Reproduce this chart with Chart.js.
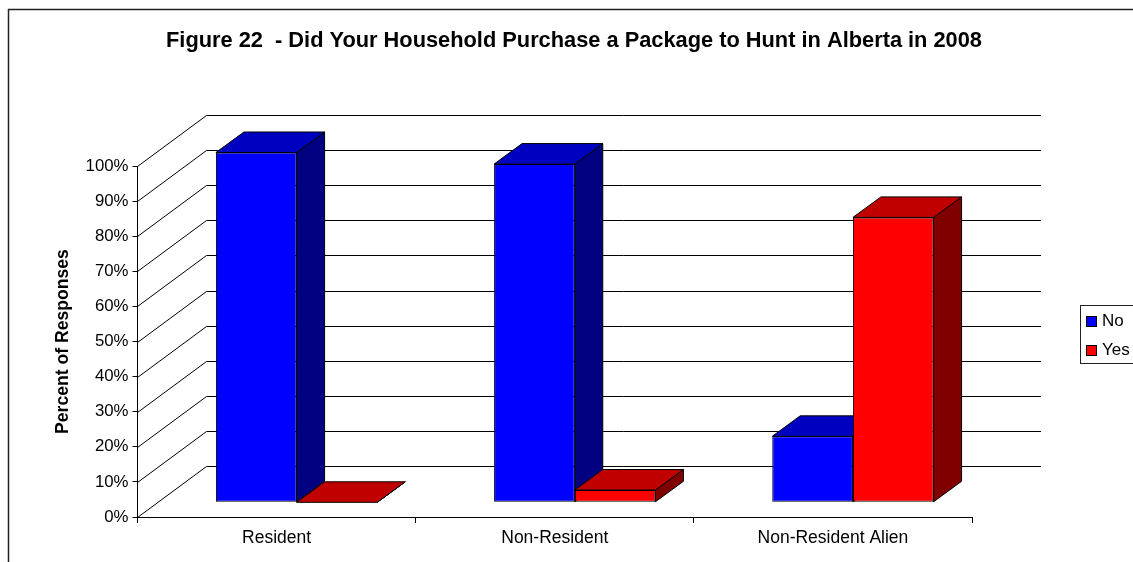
<!DOCTYPE html>
<html><head><meta charset="utf-8">
<script src="https://cdn.jsdelivr.net/npm/chart.js@4"></script>
<style>html,body{margin:0;padding:0;background:#fff}#w{width:1133px;height:562px}</style>
</head><body><div id="w"><canvas id="c" width="1133" height="562"></canvas></div>
<script>
const titleText = "Figure 22  - Did Your Household Purchase a Package to Hunt in Alberta in 2008";
const yTitle = "Percent of Responses";
const categories = ["Resident", "Non-Resident", "Non-Resident Alien"];
const noValues = [99.7, 96.4, 18.8];
const yesValues = [0, 3.5, 81.2];
const seriesNames = ["No", "Yes"];
const FONT = "'Liberation Sans', Arial, sans-serif";

const wall = {dx: 69, dy: -51};
const barOff = {dx: 20, dy: -14.7};
const barDepth = {dx: 28, dy: -20.5};
const shades = {
  "#0000ff": {top: "#0000c0", side: "#000080"},
  "#ff0000": {top: "#c00000", side: "#800000"}
};

function drawFaces(c, meta, col) {
  c.strokeStyle = "#000";
  c.lineWidth = 1;
  meta.data.forEach(el => {
    const p = el.getProps(["x", "y", "base", "width"], true);
    const l = p.x - p.width / 2, r = p.x + p.width / 2, t = p.y, b = p.base;
    const d = barDepth;
    c.fillStyle = shades[col].side;
    c.beginPath();
    c.moveTo(r, t); c.lineTo(r + d.dx, t + d.dy); c.lineTo(r + d.dx, b + d.dy); c.lineTo(r, b); c.closePath();
    c.fill(); c.stroke();
    c.fillStyle = shades[col].top;
    c.beginPath();
    c.moveTo(l, t); c.lineTo(l + d.dx, t + d.dy); c.lineTo(r + d.dx, t + d.dy); c.lineTo(r, t); c.closePath();
    c.fill(); c.stroke();
  });
}

const box3d = {
  id: "box3d",
  afterLayout(chart) {
    chart.titleBlock.left += 81;
    chart.titleBlock.right += 81;
  },
  beforeDraw(chart) {
    const c = chart.ctx;
    c.save();
    c.strokeStyle = "#222";
    c.lineWidth = 1.5;
    c.beginPath();
    c.moveTo(8.5, 562); c.lineTo(8.5, 9.5); c.lineTo(1133, 9.5);
    c.stroke();
    c.restore();
  },
  beforeDatasetsDraw(chart) {
    const c = chart.ctx, y = chart.scales.y, a = chart.chartArea;
    c.save();
    c.strokeStyle = "#000";
    c.lineWidth = 1;
    y.ticks.forEach((t, i) => {
      const p = Math.round(y.getPixelForTick(i));
      c.beginPath();
      c.moveTo(a.left, p + 0.5);
      c.lineTo(a.left + wall.dx, p + 0.5 + wall.dy);
      c.lineTo(a.right + wall.dx, p + 0.5 + wall.dy);
      c.stroke();
    });
    c.restore();
    chart.data.datasets.forEach((ds, i) => {
      const meta = chart.getDatasetMeta(i);
      c.save();
      c.translate(barOff.dx, barOff.dy);
      drawFaces(c, meta, ds.backgroundColor);
      meta.controller.draw();
      c.restore();
    });
    return false;
  },
  afterDraw(chart) {
    const c = chart.ctx;
    c.save();
    c.fillStyle = "#fff"; c.strokeStyle = "#222"; c.lineWidth = 1;
    c.fillRect(1080.5, 305.5, 60, 58);
    c.strokeRect(1080.5, 305.5, 60, 58);
    c.font = "17px " + FONT; c.textBaseline = "middle"; c.textAlign = "left";
    chart.data.datasets.forEach((ds, i) => {
      const y = 316 + i * 29;
      c.fillStyle = ds.backgroundColor; c.strokeStyle = "#000";
      c.fillRect(1086.5, y + 0.5, 10, 10);
      c.strokeRect(1086.5, y + 0.5, 10, 10);
      c.fillStyle = "#000";
      c.fillText(ds.label, 1102, y + 5.5);
    });
    c.restore();
  }
};

new Chart(document.getElementById("c"), {
  type: "bar",
  data: {
    labels: categories,
    datasets: [
      {label: seriesNames[0], data: noValues, backgroundColor: "#0000ff", borderColor: "#000", borderWidth: 1, borderSkipped: false},
      {label: seriesNames[1], data: yesValues, backgroundColor: "#ff0000", borderColor: "#000", borderWidth: 1, borderSkipped: false}
    ]
  },
  options: {
    responsive: false,
    animation: false,
    devicePixelRatio: 1,
    layout: {padding: {left: 14, right: 161, top: 0, bottom: 0}},
    datasets: {bar: {categoryPercentage: 0.58, barPercentage: 1}},
    plugins: {
      legend: {display: false},
      tooltip: {enabled: false},
      title: {display: true, text: titleText, color: "#000", align: "center",
        font: {family: FONT, size: 21.8, weight: "bold"}, padding: {top: 28, bottom: 112}}
    },
    scales: {
      x: {
        offset: true,
        grid: {display: true, drawOnChartArea: false, drawTicks: true, tickLength: 6, color: "#000", offset: true},
        border: {display: true, color: "#000"},
        ticks: {color: "#000", font: {family: FONT, size: 17.5}, padding: 5, maxRotation: 0},
        afterFit(s) { s.height = 45; }
      },
      y: {
        min: 0, max: 100,
        grid: {display: true, drawOnChartArea: false, drawTicks: true, tickLength: 5, color: "#000"},
        border: {display: true, color: "#000"},
        ticks: {stepSize: 10, color: "#000", padding: 4, font: {family: FONT, size: 16.8}, callback: v => v + "%"},
        title: {display: true, text: yTitle, color: "#000", font: {family: FONT, size: 17.6, weight: "bold"}, padding: {top: 39, bottom: 0}},
        afterFit(s) { s.width = 123.5; }
      }
    }
  },
  plugins: [box3d]
});
</script></body></html>
